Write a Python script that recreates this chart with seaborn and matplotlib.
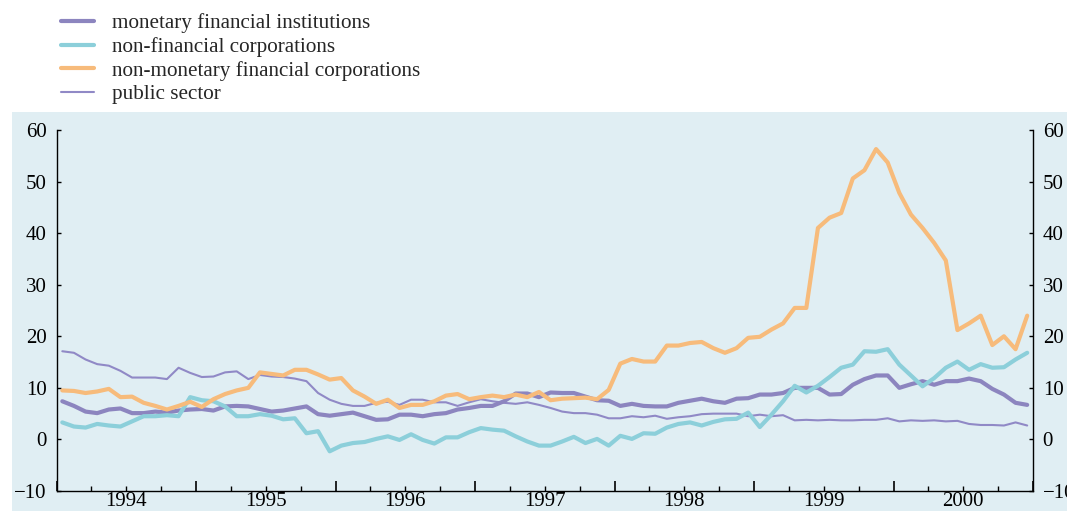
import numpy as np
import pandas as pd
import matplotlib
matplotlib.use("Agg")
import matplotlib.pyplot as plt
import matplotlib.ticker as mticker
import seaborn as sns

# Monthly data, Jan 1994 - Dec 2000 (annual percentage changes)
years = [1994, 1995, 1996, 1997, 1998, 1999, 2000]

mfi = [7.4, 6.5, 5.4, 5.1, 5.8, 6.0, 5.1, 5.1, 5.4, 5.2, 5.6, 5.8, 5.9, 5.6, 6.4, 6.5, 6.4, 5.9, 5.4, 5.6,
       6.0, 6.4, 4.9, 4.6, 4.9, 5.2, 4.5, 3.8, 3.9,
       4.8, 4.8, 4.5, 4.9, 5.1, 5.8, 6.1, 6.5, 6.5, 7.4, 8.9, 8.9, 8.2, 9.1, 9.0, 9.0, 8.3, 7.6, 7.5, 6.5,
       6.9, 6.5, 6.4, 6.4, 7.1, 7.5, 7.9, 7.4, 7.1, 7.9,
       8.0, 8.7, 8.7, 9.0, 10.0, 10.0, 10.0, 8.7, 8.8, 10.6, 11.7, 12.4, 12.4, 10.0, 10.7, 11.3, 10.6,
       11.3, 11.3, 11.8, 11.3, 9.8, 8.7, 7.1, 6.7]

nfc = [3.3, 2.5, 2.3, 3.0, 2.7, 2.5, 3.5, 4.5, 4.5, 4.7, 4.5, 8.2, 7.6, 7.4, 6.4, 4.5, 4.5, 4.9, 4.6, 3.9,
       4.1, 1.2, 1.6, -2.3, -1.2, -0.7, -0.5, 0.1, 0.6,
       -0.1, 1.0, -0.1, -0.8, 0.4, 0.4, 1.4, 2.2, 1.9, 1.7, 0.6, -0.4, -1.2, -1.2, -0.4, 0.5, -0.7, 0.1,
       -1.2, 0.7, 0.1, 1.2, 1.1, 2.3, 3.0, 3.3, 2.7, 3.4, 3.9, 4.0,
       5.2, 2.4, 4.8, 7.4, 10.4, 9.1, 10.4, 12.1, 13.9, 14.5, 17.1, 17.0, 17.5, 14.5, 12.4, 10.3, 11.9,
       13.9, 15.1, 13.5, 14.6, 13.9, 14.0, 15.5, 16.8]

nmfc = [9.5, 9.4, 9.0, 9.3, 9.8, 8.2, 8.3, 7.1, 6.5, 5.8, 6.5, 7.3, 6.3, 7.8, 8.8, 9.5, 10.0, 13.0, 12.7,
        12.4, 13.5, 13.5, 12.6, 11.6, 11.9, 9.5, 8.3, 6.9, 7.7,
        6.1, 6.7, 6.7, 7.4, 8.5, 8.8, 7.8, 8.2, 8.5, 8.2, 8.7, 8.2, 9.2, 7.6, 7.9, 8.0, 8.1, 7.8, 9.6, 14.7,
        15.6, 15.1, 15.1, 18.2, 18.2, 18.7, 18.9, 17.7, 16.8, 17.7,
        19.7, 19.9, 21.3, 22.5, 25.5, 25.5, 41.0, 43.0, 43.9, 50.6, 52.2, 56.3, 53.7, 47.8, 43.6, 41.0,
        38.1, 34.7, 21.2, 22.5, 24.0, 18.3, 20.0, 17.5, 24.0]

public = [17.1, 16.8, 15.5, 14.6, 14.3, 13.3, 12.0, 12.0, 12.0, 11.7, 13.9, 12.9, 12.1, 12.2, 13.0, 13.2,
          11.7, 12.5, 12.2, 12.1, 11.8, 11.3, 9.0, 7.7, 6.9, 6.5, 6.5, 7.1, 7.3,
          6.7, 7.7, 7.7, 7.2, 7.2, 6.5, 7.2, 7.8, 7.4, 7.1, 6.9, 7.2, 6.7, 6.1, 5.4, 5.1, 5.1, 4.8, 4.1,
          4.1, 4.5, 4.3, 4.6, 4.0, 4.3, 4.5, 4.9, 5.0, 5.0, 5.0,
          4.5, 4.8, 4.5, 4.7, 3.7, 3.8, 3.7, 3.8, 3.7, 3.7, 3.8, 3.8, 4.1, 3.5, 3.7, 3.6, 3.7, 3.5, 3.6,
          3.0, 2.8, 2.8, 2.7, 3.3, 2.7]

labels = ["monetary financial institutions", "non-financial corporations",
          "non-monetary financial corporations", "public sector"]

n = len(mfi)
t = 1994 + (np.arange(n) + 0.5) / 12.0

sns.set_theme(style="white")
plt.rcParams["font.family"] = ["Liberation Serif", "DejaVu Serif"]

fig = plt.figure(figsize=(10.67, 5.11), dpi=100)
fig.patches.append(plt.Rectangle((12 / 1067, 0), 1 - 12 / 1067, (511 - 112) / 511,
                                 transform=fig.transFigure, facecolor="#e0eef3",
                                 edgecolor="none", zorder=-10))
ax = fig.add_axes([56.5 / 1067, 1 - 491 / 511, (1033 - 56.5) / 1067, (491 - 130) / 511])
ax.set_facecolor("none")
ax.patch.set_alpha(0)

c_mfi = "#8c85bf"
c_nfc = "#8ccfda"
c_nmfc = "#f7bb7b"
c_pub = "#9089c6"

sns.lineplot(x=t, y=public, ax=ax, color=c_pub, linewidth=1.5)
sns.lineplot(x=t, y=mfi, ax=ax, color=c_mfi, linewidth=3.0)
sns.lineplot(x=t, y=nfc, ax=ax, color=c_nfc, linewidth=3.0)
sns.lineplot(x=t, y=nmfc, ax=ax, color=c_nmfc, linewidth=3.0)

ax.set_xlim(1994, 2001)
ax.set_ylim(-10, 60)
ax.set_yticks(range(-10, 61, 10))
ax.xaxis.set_major_locator(mticker.FixedLocator(list(range(1994, 2002))))
ax.xaxis.set_major_formatter(mticker.NullFormatter())
ax.xaxis.set_minor_locator(mticker.FixedLocator([y + q / 4 for y in range(1994, 2001) for q in (1, 2, 3)]))
ax.xaxis.set_minor_formatter(mticker.FuncFormatter(
    lambda v, p: str(int(v)) if abs(v - int(v) - 0.5) < 1e-6 else ""))

ax.spines["top"].set_visible(False)
for s in ["left", "right", "bottom"]:
    ax.spines[s].set_visible(True)
    ax.spines[s].set_color("black")
    ax.spines[s].set_linewidth(1.0)

ax.tick_params(axis="y", which="both", direction="in", length=3, width=1, colors="black",
               labelsize=15, left=True, right=True, labelleft=True, labelright=True, pad=7)
ax.tick_params(axis="x", which="major", direction="in", length=7, width=1.2, colors="black",
               bottom=True, labelbottom=False)
ax.tick_params(axis="x", which="minor", direction="in", length=3.5, width=1, colors="black",
               bottom=True, labelsize=15, pad=1)
ax.set_xlabel("")
ax.set_ylabel("")

handles = [plt.Line2D([], [], color=c_mfi, linewidth=3.0),
           plt.Line2D([], [], color=c_nfc, linewidth=3.0),
           plt.Line2D([], [], color=c_nmfc, linewidth=3.0),
           plt.Line2D([], [], color=c_pub, linewidth=1.5)]
fig.legend(handles, labels, loc="upper left", bbox_to_anchor=(55 / 1067, 1 - 7 / 511),
           frameon=False, fontsize=15.2, handlelength=1.55, handletextpad=0.85,
           labelspacing=0.18, borderaxespad=0, borderpad=0.3)

fig.savefig("out.png", dpi=100)
